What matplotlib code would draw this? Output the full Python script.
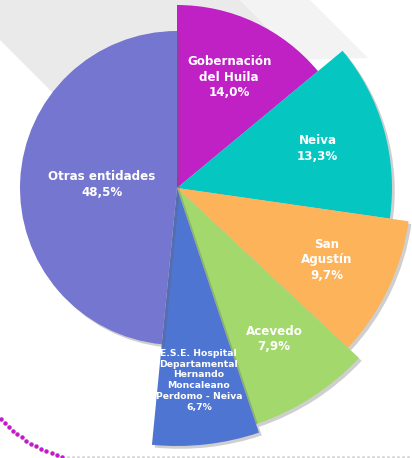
import numpy as np
import matplotlib
matplotlib.use("Agg")
from matplotlib import pyplot as plt
import matplotlib.patches as mpatches
import matplotlib.patheffects as pe

labels = ["Gobernación\ndel Huila", "Neiva", "San\nAgustín", "Acevedo",
          "E.S.E. Hospital\nDepartamental\nHernando\nMoncaleano\nPerdomo - Neiva",
          "Otras entidades"]
values = [14.0, 13.3, 9.7, 7.9, 6.7, 48.5]
pct_text = ["14,0%", "13,3%", "9,7%", "7,9%", "6,7%", "48,5%"]

colors = ["#c021c5", "#06c6c2", "#fdb35a", "#a3d96c", "#4f75d3", "#7476cf"]
radii = [183, 215, 234, 249, 258, 157]          # pixel radius of each slice
label_pos = [0.67, 0.68, 0.71, 0.72, 0.75, 0.48]
label_size = [8.6, 8.6, 8.6, 8.6, 6.7, 8.6]

W, H = 412, 458
cx, cy = 177, 188   # centre of the pie in pixels

def px(x, y):
    return (x - cx, cy - y)

fig = plt.figure(figsize=(W / 100, H / 100), dpi=100)
ax = fig.add_axes([0, 0, 1, 1])

# background shapes
grey = mpatches.Polygon([px(0, 0), px(240, 0), px(300, 60), px(200, 150),
                         px(60, 100), px(0, 40)], closed=True,
                        facecolor="#eaeaea", edgecolor="none", zorder=0)
light = mpatches.Polygon([px(240, 0), px(310, 0), px(368, 58), px(300, 60)],
                         closed=True, facecolor="#f3f3f3", edgecolor="none", zorder=0)
ax.add_patch(grey)
ax.add_patch(light)

# dotted arc and dotted baseline
a = np.radians(np.linspace(141, 105, 15))
arc = [px(95 + 126 * np.cos(v), 335 + 126 * np.sin(v)) for v in a]
ax.plot([p[0] for p in arc], [p[1] for p in arc], linestyle="none", marker="o",
        markersize=2.2, color="#c21bc9", zorder=1)
gx = np.arange(68, W, 5)
base = [px(x, 457) for x in gx]
ax.plot([p[0] for p in base], [p[1] for p in base], linestyle="none",
        marker="s", markersize=0.9, color="#d2d2d2", zorder=1)

wedges, _ = ax.pie(values, colors=colors, startangle=90, counterclock=False,
                   center=(0, 0), radius=1, frame=True,
                   wedgeprops=dict(linewidth=0))
ax.set_xlim(-cx, W - cx)
ax.set_ylim(cy - H, cy)
ax.set_aspect("equal")
ax.axis("off")

for w, r in zip(wedges, radii):
    w.set_radius(r)
    w.set_path_effects([pe.SimplePatchShadow(offset=(2, -2), shadow_rgbFace="#606060",
                                             alpha=0.3), pe.Normal()])

for w, lab, pt, f, fs in zip(wedges, labels, pct_text, label_pos, label_size):
    mid = np.radians((w.theta1 + w.theta2) / 2)
    r = w.r * f
    ax.text(r * np.cos(mid), r * np.sin(mid), lab + "\n" + pt, ha="center", va="center",
            color="white", fontsize=fs, fontweight="bold", family="DejaVu Sans",
            linespacing=1.25, zorder=5)

fig.savefig("out.png", dpi=100)
